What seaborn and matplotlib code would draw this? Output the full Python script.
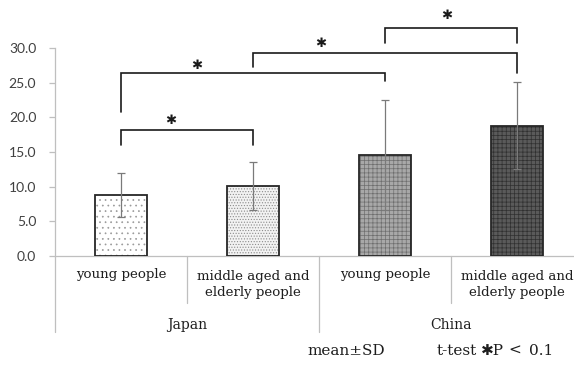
import matplotlib
matplotlib.use("Agg")
import matplotlib.pyplot as plt
from matplotlib.patches import Rectangle
from matplotlib.transforms import blended_transform_factory
import seaborn as sns
import pandas as pd

# --- data -------------------------------------------------------------
countries = ["Japan", "Japan", "China", "China"]
groups = ["young people", "middle aged and\nelderly people",
          "young people", "middle aged and\nelderly people"]
means = [8.8, 10.1, 14.6, 18.8]
sds = [3.2, 3.4, 7.9, 6.3]
y_ticks = [0, 5, 10, 15, 20, 25, 30]

# significance brackets: (left bar, right bar, bar height, left leg end, right leg end)
bracket_left = [0, 0, 1, 2]
bracket_right = [1, 2, 3, 3]
bracket_top = [18.2, 26.4, 29.25, 32.9]
bracket_leg_left = [16.0, 20.8, 27.2, 30.7]
bracket_leg_right = [16.0, 25.3, 26.45, 30.7]
star_x = [0.38, 0.57, 1.51, 2.47]
star_y = [19.5, 27.5, 30.7, 34.7]

# --- style ------------------------------------------------------------
sns.set_style("white")
plt.rcParams["hatch.linewidth"] = 0.5
serif = ["DejaVu Serif", "DejaVu Sans"]
text_color = "#1e1e1e"

face_colors = ["#ffffff", "#f2f2f2", "#a8a8a8", "#5a5a5a"]
hatch_colors = ["#9a9a9a", "#8c8c8c", "#6e6e6e", "#303030"]
hatches = ["...", "......", "++++", "++++"]

df = pd.DataFrame({
    "key": [f"{c} | {g}" for c, g in zip(countries, groups)],
    "mean": means,
})

fig = plt.figure(figsize=(5.74, 3.72), dpi=100)
ax = fig.add_axes([55 / 574, 116 / 372, 528 / 574, 208 / 372])

sns.barplot(data=df, x="key", y="mean", hue="key", palette=face_colors,
            width=0.4, errorbar=None, legend=False, ax=ax, saturation=1)

# patterned fills plus a dark outline for each bar
for patch, hc, h in zip(ax.patches, hatch_colors, hatches):
    patch.set_hatch(h)
    patch.set_edgecolor(hc)
    patch.set_linewidth(0)
    ax.add_patch(Rectangle((patch.get_x(), patch.get_y()), patch.get_width(),
                           patch.get_height(), fill=False,
                           edgecolor="#262626", linewidth=1.3, zorder=3))

xs = list(range(len(means)))
ax.errorbar(xs, means, yerr=sds, fmt="none", ecolor="#7a7a7a",
            elinewidth=0.9, capsize=3, capthick=0.9, zorder=4)

# axes and ticks
ax.set_xlim(-0.5, 3.5)
ax.set_ylim(0, 30)
ax.set_yticks(y_ticks)
ax.set_yticklabels([f"{v:.1f}" for v in y_ticks], fontfamily="Lato",
                   fontsize=10, color="#404040")
ax.tick_params(axis="y", length=4.5, color="#bfbfbf", width=0.9, pad=9,
               left=True)
ax.tick_params(axis="x", bottom=False, labelbottom=False)
ax.set_xlabel("")
ax.set_ylabel("")
for side in ["top", "right"]:
    ax.spines[side].set_visible(False)
for side in ["left", "bottom"]:
    ax.spines[side].set_color("#bfbfbf")
    ax.spines[side].set_linewidth(0.9)

# category labels and dividers below the axis
tr = blended_transform_factory(ax.transData, ax.transAxes)
for x, g in zip(xs, groups):
    yl = -0.088 if "\n" not in g else -0.137
    ax.text(x, yl, g, transform=tr, ha="center", va="center",
            fontfamily=serif, fontsize=9.6, color=text_color,
            linespacing=1.3)
for x in [0.5, 2.5]:
    ax.plot([x, x], [0, -0.226], transform=tr, color="#bfbfbf", lw=0.9,
            clip_on=False)
for x in [-0.5, 1.5]:
    ax.plot([x, x], [0, -0.365], transform=tr, color="#bfbfbf", lw=0.9,
            clip_on=False)
for i, c in enumerate(["Japan", "China"]):
    ax.text(2 * i + 0.5, -0.33, c, transform=tr, ha="center", va="center",
            fontfamily=serif, fontsize=10, color=text_color)

# significance brackets
for l, r, t, ll, lr, sx, sy in zip(bracket_left, bracket_right, bracket_top,
                                   bracket_leg_left, bracket_leg_right,
                                   star_x, star_y):
    ax.plot([l, l, r, r], [ll, t, t, lr], color="#1a1a1a", lw=1.2,
            clip_on=False, solid_joinstyle="miter")
    ax.text(sx, sy, "✱", ha="center", va="center", fontsize=9.5,
            fontfamily=["DejaVu Sans"], color="#1a1a1a")

# footnote
foot_y = 1 - 351 / 372
fig.text(307 / 574, foot_y, "mean±SD", ha="left", va="center",
         fontfamily=serif, fontsize=11, color=text_color)
fig.text(437 / 574, foot_y, "t-test", ha="left", va="center",
         fontfamily=serif, fontsize=11, color=text_color)
fig.text(481 / 574, foot_y, "✱P", ha="left", va="center",
         fontfamily=serif, fontsize=11, color=text_color)
fig.text(508 / 574, foot_y, "<", ha="left", va="center",
         fontfamily=serif, fontsize=11, color=text_color)
fig.text(529 / 574, foot_y, "0.1", ha="left", va="center",
         fontfamily=serif, fontsize=11, color=text_color)

fig.savefig("out.png", dpi=100)
